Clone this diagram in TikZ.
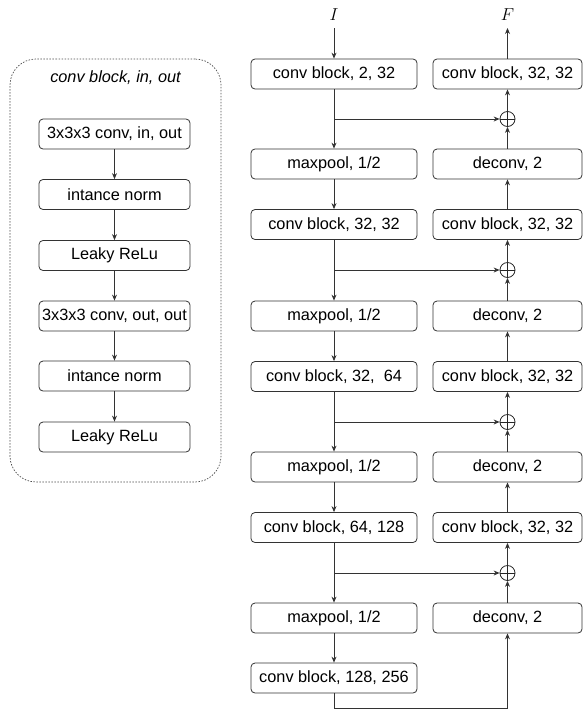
\documentclass[tikz,border=0pt]{standalone}
\usepackage{fontspec}
\setmainfont{Liberation Sans}
\usetikzlibrary{arrows.meta}
\begin{document}
\begin{tikzpicture}[x=1pt,y=-1pt,
  box/.style={draw=black!80, line width=0.8pt, rounded corners=4pt, minimum height=30pt, inner sep=0pt, font=\fontsize{16.3}{19}\selectfont},
  mbox/.style={box, minimum width=166pt},
  rbox/.style={box, minimum width=149pt},
  lbox/.style={box, minimum width=151pt},
  plus/.style={circle, draw=black!85, line width=0.8pt, minimum size=15pt, inner sep=0pt,
    path picture={\draw[line width=0.8pt, black!85] (path picture bounding box.north) -- (path picture bounding box.south) (path picture bounding box.west) -- (path picture bounding box.east);}},
  conn/.style={draw=black!80, line width=0.8pt},
  arr/.style={conn, -{Stealth[length=6pt,width=5pt]}},
  lab/.style={font=\fontsize{19}{22}\selectfont}
]
\useasboundingbox (0,0) rectangle (583,713);

% left panel
\node[draw=black!70, line width=0.7pt, dash pattern=on 1.5pt off 1.5pt, rounded corners=26pt, minimum width=211pt, minimum height=423pt, inner sep=0pt] (panel) at (115.5,270.5) {};
\node[font=\fontsize{16.3}{19}\selectfont\itshape] (ptitle) at (115.5,78) {conv block, in, out};
\node[lbox] (l1) at (114.5,134) {3x3x3 conv, in, out};
\node[lbox] (l2) at (114.5,194.5) {intance norm};
\node[lbox] (l3) at (114.5,255.5) {Leaky ReLu};
\node[lbox] (l4) at (114.5,316) {3x3x3 conv, out, out};
\node[lbox] (l5) at (114.5,376) {intance norm};
\node[lbox] (l6) at (114.5,437) {Leaky ReLu};
\foreach \a/\b in {l1/l2,l2/l3,l3/l4,l4/l5,l5/l6}
  \draw[arr] (\a) -- (\b);

% encoder
\node[lab] (I) at (334,15) {$I$};
\node[lab] (F) at (507.5,15) {$F$};
\coordinate (Iend) at (334,28);
\coordinate (Fend) at (507.5,28);
\node[mbox] (c1) at (334,74) {conv block, 2, 32};
\node[mbox] (m1) at (334,164) {maxpool, 1/2};
\node[mbox] (c2) at (334,224.5) {conv block, 32, 32};
\node[mbox] (m2) at (334,316) {maxpool, 1/2};
\node[mbox] (c3) at (334,376.5) {conv block, 32,\ \ 64};
\node[mbox] (m3) at (334,467) {maxpool, 1/2};
\node[mbox] (c4) at (334,527.5) {conv block, 64, 128};
\node[mbox] (m4) at (334,618) {maxpool, 1/2};
\node[mbox] (c5) at (334,678) {conv block, 128, 256};

% decoder
\node[rbox] (r1) at (507.5,74) {conv block, 32, 32};
\node[rbox] (d1) at (507.5,164) {deconv, 2};
\node[rbox] (r2) at (507.5,224.5) {conv block, 32, 32};
\node[rbox] (d2) at (507.5,316) {deconv, 2};
\node[rbox] (r3) at (507.5,376.5) {conv block, 32, 32};
\node[rbox] (d3) at (507.5,467) {deconv, 2};
\node[rbox] (r4) at (507.5,527.5) {conv block, 32, 32};
\node[rbox] (d4) at (507.5,618) {deconv, 2};

\node[plus] (p1) at (507.5,119) {};
\node[plus] (p2) at (507.5,270) {};
\node[plus] (p3) at (507.5,422) {};
\node[plus] (p4) at (507.5,573) {};

\coordinate (j1) at (334,119);
\coordinate (j2) at (334,270);
\coordinate (j3) at (334,422);
\coordinate (j4) at (334,573);
\coordinate (b1) at (334,708);
\coordinate (b2) at (507.5,708);

\draw[arr] (Iend) -- (c1);
\draw[arr] (r1) -- (Fend);

\foreach \c/\m in {c1/m1,c2/m2,c3/m3,c4/m4}
  \draw[arr] (\c) -- (\m);
\foreach \m/\c in {m1/c2,m2/c3,m3/c4,m4/c5}
  \draw[arr] (\m) -- (\c);
\foreach \j/\p in {j1/p1,j2/p2,j3/p3,j4/p4}
  \draw[arr] (\j) -- (\p);
\foreach \d/\p/\r in {d1/p1/r1,d2/p2/r2,d3/p3/r3,d4/p4/r4}{
  \draw[arr] (\d) -- (\p);
  \draw[arr] (\p) -- (\r);
}
\foreach \r/\d in {r2/d1,r3/d2,r4/d3}
  \draw[arr] (\r) -- (\d);
\draw[arr] (c5.south) -- (b1) -- (b2) -- (d4.south);
\end{tikzpicture}
\end{document}
